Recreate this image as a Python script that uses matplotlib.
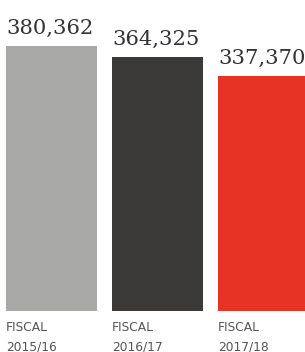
import matplotlib
matplotlib.use("Agg")
import matplotlib.pyplot as plt

# data
years = ["2015/16", "2016/17", "2017/18"]
values = [380362, 364325, 337370]
colors = ["#a8a8a6", "#3b3a38", "#e63325"]

W, H = 305, 352
fig = plt.figure(figsize=(W / 100, H / 100), dpi=100)

# axes: left edge at first bar, bottom at bar baseline
ax = fig.add_axes([6 / W, (H - 311) / H, (W - 6) / W, 311 / H])
step = 106
bar_w = 91 / step
ax.bar(range(len(values)), values, width=bar_w, align="edge", color=colors)
ax.set_xlim(0, (W - 6) / step)
ax.set_ylim(0, values[0] * 311 / 265)
ax.axis("off")

for i, v in enumerate(values):
    ax.annotate(f"{v:,}", (i, v), xytext=(0, 12), textcoords="offset pixels",
                ha="left", va="baseline", family="DejaVu Serif",
                fontsize=15.2, color="#333333", annotation_clip=False)
    ax.annotate("FISCAL", (i, 0), xytext=(0, -20),
                textcoords="offset pixels", ha="left", va="baseline",
                family="DejaVu Sans", fontsize=8.8, color="#555555",
                annotation_clip=False)
    ax.annotate(years[i], (i, 0), xytext=(0, -39),
                textcoords="offset pixels", ha="left", va="baseline",
                family="DejaVu Sans", fontsize=8.8, color="#555555",
                annotation_clip=False)

fig.savefig("out.png", dpi=100)
